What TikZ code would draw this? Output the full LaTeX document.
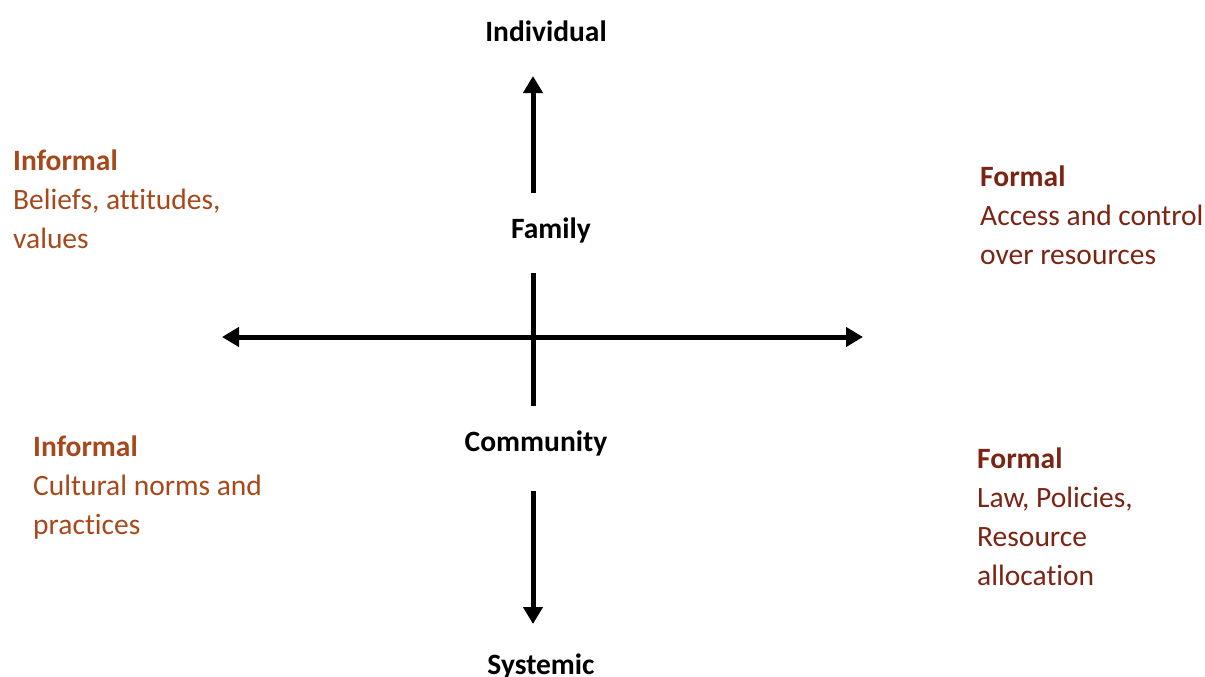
\documentclass[tikz,border=0pt]{standalone}
\usepackage{fontspec}
\setmainfont{Carlito}[Ligatures=NoCommon]
\usepackage{tikz}
\usetikzlibrary{arrows.meta, positioning, calc}
\definecolor{informalbrown}{RGB}{166, 72, 26}
\definecolor{formalbrown}{RGB}{124, 36, 20}

\tikzset{
    levellabel/.style={anchor=base, inner sep=0pt, font=\fontsize{29.5}{39}\selectfont\bfseries},
    normblock/.style={anchor=base west, inner sep=0pt, align=left, font=\fontsize{29.5}{39}\selectfont},
    axisarrow/.style={line width=5pt, -{Triangle[length=17pt, width=19pt]}}
}

\begin{document}
\begin{tikzpicture}[x=1pt, y=-1pt]
    \useasboundingbox (0,0) rectangle (1205,677);

    % Levels
    \node[levellabel] (individual) at (546,42) {Individual};
    \node[levellabel] (family) at (551,238) {Family};
    \node[levellabel] (community) at (536,451) {Community};
    \node[levellabel] (systemic) at (541,674) {Systemic};

    % Axis end points
    \coordinate (upfrom) at (533,193);
    \coordinate (upto) at (533,76);
    \coordinate (midtop) at (533,273);
    \coordinate (midbottom) at (533,406);
    \coordinate (downfrom) at (533,491);
    \coordinate (downto) at (533,624);
    \coordinate (leftend) at (222,337);
    \coordinate (rightend) at (863,337);

    % Arrows
    \draw[axisarrow] (upfrom) -- (upto);
    \draw[line width=5pt] (midtop) -- (midbottom);
    \draw[axisarrow] (downfrom) -- (downto);
    \draw[axisarrow, {Triangle[length=17pt, width=19pt]}-{Triangle[length=17pt, width=19pt]}] (leftend) -- (rightend);

    % Informal norms (anchored at last baseline)
    \node[normblock, text=informalbrown] (informaltop) at (13,248)
        {\textbf{Informal}\\Beliefs, attitudes,\\values};
    \node[normblock, text=informalbrown] (informalbottom) at (33,534)
        {\textbf{Informal}\\Cultural norms and\\practices};

    % Formal norms
    \node[normblock, text=formalbrown] (formaltop) at (980,264)
        {\textbf{Formal}\\Access and control\\over resources};
    \node[normblock, text=formalbrown] (formalbottom) at (977,585)
        {\textbf{Formal}\\Law, Policies,\\Resource\\allocation};
\end{tikzpicture}
\end{document}
